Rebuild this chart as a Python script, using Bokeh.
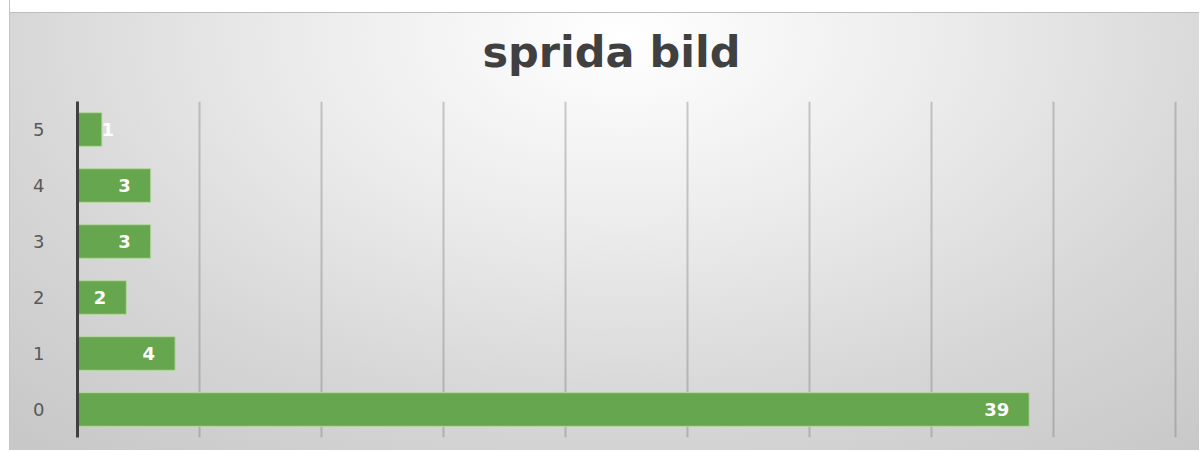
from bokeh.plotting import figure
from bokeh.models import Range1d, FixedTicker, ColumnDataSource, LabelSet
from bokeh.embed import file_html
from bokeh.resources import INLINE

title_text = "sprida bild"
categories = [0, 1, 2, 3, 4, 5]
values = [39, 4, 2, 3, 3, 1]
x_ticks = [0, 5, 10, 15, 20, 25, 30, 35, 40, 45]

labels = [str(v) for v in values]
offsets = [-20 if v >= 2 else 12 for v in values]
src = ColumnDataSource(dict(y=categories, v=values, t=labels, off=offsets))

p = figure(width=1199, height=450, output_backend="svg", toolbar_location=None,
           x_range=Range1d(0, 45.2), y_range=Range1d(-0.5, 5.5),
           min_border_left=77, min_border_right=19, min_border_top=100,
           min_border_bottom=13, title=title_text)

p.styles = {
    "background": "linear-gradient(to right, #ffffff 0px, #ffffff 9px, #c4c4c4 9px, #c4c4c4 10px, transparent 10px), "
                  "linear-gradient(to bottom, #ffffff 0px, #ffffff 12px, #bdbdbd 12px, #bdbdbd 13px, transparent 13px), "
                  "radial-gradient(ellipse 75% 120% at 52% 8%, #ffffff 0%, #ececec 35%, #d6d6d6 70%, #c8c8c8 100%)"
}
p.background_fill_alpha = 0
p.border_fill_alpha = 0
p.outline_line_color = None

p.title.align = "left"
p.title.offset = 405
p.title.text_font = "DejaVu Sans"
p.title.text_font_size = "43px"
p.title.text_font_style = "bold"
p.title.text_color = "#404040"
p.title.standoff = 49

p.hbar(y="y", right="v", height=0.6, left=0, source=src,
       fill_color="#65a64f", line_color="#b6d7a0", line_width=1)

labs = LabelSet(x="v", y="y", text="t", source=src, x_offset="off",
                text_align="right", text_baseline="middle",
                text_color="white", text_font=dict(value="DejaVu Sans"),
                text_font_size="18px", text_font_style="bold")
p.add_layout(labs)

p.xaxis.visible = False
p.xgrid.ticker = FixedTicker(ticks=x_ticks)
p.xgrid.grid_line_color = "#707070"
p.xgrid.grid_line_alpha = 0.35
p.xgrid.grid_line_width = 2
p.ygrid.visible = False

yax = p.yaxis[0]
yax.ticker = FixedTicker(ticks=categories)
yax.axis_line_color = "#404040"
yax.axis_line_width = 3
yax.major_tick_line_color = None
yax.minor_tick_line_color = None
yax.major_label_standoff = 27
yax.major_label_text_font = "DejaVu Sans"
yax.major_label_text_font_size = "18px"
yax.major_label_text_color = "#595959"

open("out.html", "w").write(file_html(p, INLINE))
